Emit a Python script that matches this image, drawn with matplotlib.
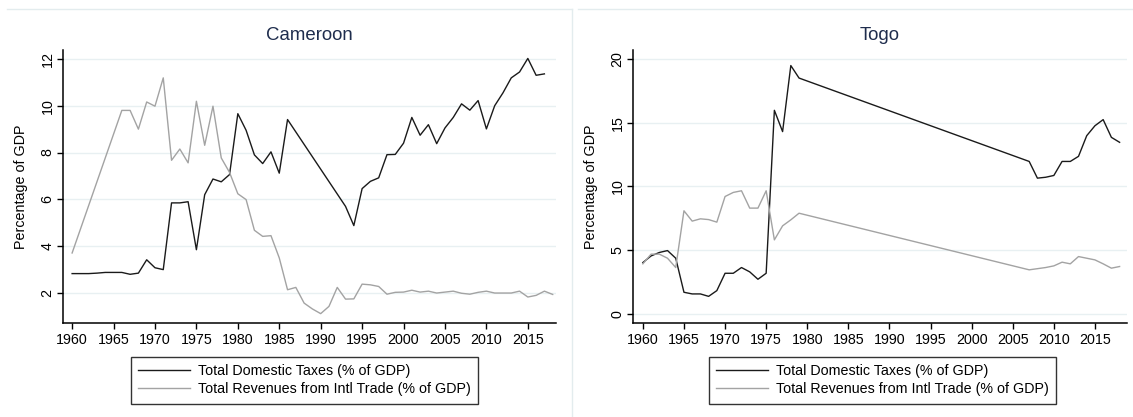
import matplotlib
matplotlib.use("Agg")
import matplotlib.pyplot as plt
from matplotlib.lines import Line2D

plt.rcParams['font.family'] = ['Liberation Sans', 'DejaVu Sans']

# ---------------- data ----------------
cmr_dom_years = [1960, 1961, 1962, 1963, 1964, 1965, 1966, 1967, 1968, 1969,
                 1970, 1971, 1972, 1973, 1974, 1975, 1976, 1977, 1978, 1979,
                 1980, 1981, 1982, 1983, 1984, 1985, 1986, 1993, 1994, 1995,
                 1996, 1997, 1998, 1999, 2000, 2001, 2002, 2003, 2004, 2005,
                 2006, 2007, 2008, 2009, 2010, 2011, 2012, 2013, 2014, 2015,
                 2016, 2017]
cmr_dom = [2.83, 2.83, 2.83, 2.85, 2.88, 2.88, 2.88, 2.80, 2.85, 3.42,
           3.08, 3.00, 5.85, 5.85, 5.90, 3.85, 6.20, 6.87, 6.75, 7.06,
           9.66, 8.95, 7.90, 7.53, 8.03, 7.12, 9.41, 5.70, 4.88, 6.46,
           6.77, 6.92, 7.91, 7.92, 8.40, 9.50, 8.74, 9.19, 8.38, 9.05,
           9.50, 10.08, 9.81, 10.22, 9.01, 10.00, 10.55, 11.19, 11.44, 12.02,
           11.30, 11.36]

cmr_trade_years = [1960, 1966, 1967, 1968, 1969, 1970, 1971, 1972, 1973, 1974,
                   1975, 1976, 1977, 1978, 1979, 1980, 1981, 1982, 1983, 1984,
                   1985, 1986, 1987, 1988, 1989, 1990, 1991, 1992, 1993, 1994,
                   1995, 1996, 1997, 1998, 1999, 2000, 2001, 2002, 2003, 2004,
                   2005, 2006, 2007, 2008, 2009, 2010, 2011, 2012, 2013, 2014,
                   2015, 2016, 2017, 2018]
cmr_trade = [3.71, 9.80, 9.80, 9.00, 10.16, 9.98, 11.19, 7.67, 8.15, 7.56,
             10.19, 8.31, 9.98, 7.77, 7.15, 6.24, 5.99, 4.68, 4.42, 4.45,
             3.50, 2.14, 2.24, 1.57, 1.32, 1.12, 1.43, 2.24, 1.74, 1.75,
             2.38, 2.35, 2.28, 1.95, 2.03, 2.04, 2.12, 2.04, 2.08, 2.00,
             2.04, 2.08, 1.99, 1.95, 2.03, 2.08, 2.00, 2.00, 2.00, 2.08,
             1.83, 1.90, 2.08, 1.94]

tgo_years = [1960, 1961, 1962, 1963, 1964, 1965, 1966, 1967, 1968, 1969,
             1970, 1971, 1972, 1973, 1974, 1975, 1976, 1977, 1978, 1979,
             2007, 2008, 2009, 2010, 2011, 2012, 2013, 2014, 2015, 2016,
             2017, 2018]
tgo_dom = [4.03, 4.55, 4.82, 4.97, 4.37, 1.70, 1.57, 1.57, 1.38, 1.83,
           3.19, 3.19, 3.64, 3.30, 2.72, 3.19, 15.97, 14.30, 19.48, 18.50,
           11.96, 10.65, 10.72, 10.86, 11.96, 11.96, 12.36, 13.98, 14.76, 15.24,
           13.85, 13.46]
tgo_trade = [3.93, 4.69, 4.69, 4.37, 3.64, 8.09, 7.28, 7.46, 7.40, 7.20,
             9.21, 9.53, 9.66, 8.30, 8.30, 9.66, 5.81, 6.91, 7.38, 7.90,
             3.46, 3.55, 3.64, 3.77, 4.06, 3.93, 4.50, 4.37, 4.24, 3.93,
             3.59, 3.72]

titles = ["Cameroon", "Togo"]
x_ticks = list(range(1960, 2016, 5))
cmr_yticks = [2, 4, 6, 8, 10, 12]
tgo_yticks = [0, 5, 10, 15, 20]
legend_labels = ["Total Domestic Taxes (% of GDP)",
                 "Total Revenues from Intl Trade (% of GDP)"]
y_label = "Percentage of GDP"

# ---------------- figure ----------------
W, H = 1133, 417
fig = plt.figure(figsize=(W / 100, H / 100), dpi=100)
fig.patch.set_facecolor('white')

def fx(px):
    return px / W

def fy(py):
    return 1 - py / H

BLACK = '#1a1a1a'
GRAY = '#a3a3a3'
GRID = '#e8f0f2'
TITLE_C = '#1f2d4d'
FS = 10.3

panels = [
    dict(left=63, right=556, xlim=(1958.9, 2018.4), ylim=(0.72, 12.38),
         yticks=cmr_yticks, dom=(cmr_dom_years, cmr_dom),
         trade=(cmr_trade_years, cmr_trade), leg_x=131),
    dict(left=633, right=1127, xlim=(1958.8, 2018.9), ylim=(-0.71, 20.7),
         yticks=tgo_yticks, dom=(tgo_years, tgo_dom),
         trade=(tgo_years, tgo_trade), leg_x=709),
]

top_px, bot_px = 50, 323
for i, p in enumerate(panels):
    ax = fig.add_axes([fx(p['left']), fy(bot_px),
                       fx(p['right'] - p['left']), (bot_px - top_px) / H])
    ax.set_xlim(*p['xlim'])
    ax.set_ylim(*p['ylim'])
    ax.grid(axis='y', color=GRID, linewidth=1.0)
    ax.set_axisbelow(True)
    l1, = ax.plot(p['dom'][0], p['dom'][1], color=BLACK, lw=1.0)
    l2, = ax.plot(p['trade'][0], p['trade'][1], color=GRAY, lw=1.0)
    for s in ['top', 'right']:
        ax.spines[s].set_visible(False)
    for s in ['left', 'bottom']:
        ax.spines[s].set_linewidth(1.1)
        ax.spines[s].set_color('black')
    ax.set_xticks(x_ticks)
    ax.set_yticks(p['yticks'])
    ax.tick_params(axis='both', direction='out', length=4, width=1.0,
                   labelsize=FS, colors='black')
    ax.tick_params(axis='x', pad=3)
    ax.tick_params(axis='y', pad=2)
    for lab in ax.get_yticklabels():
        lab.set_rotation(90)
        lab.set_va('center')
    ax.set_ylabel(y_label, fontsize=FS)
    ax.yaxis.set_label_coords(-0.071, 0.5)
    ax.set_title(titles[i], fontsize=13.4, color=TITLE_C, pad=7)
    leg = ax.legend([l1, l2], legend_labels, loc='upper left',
                    bbox_to_anchor=(fx(p['leg_x']), fy(357)),
                    bbox_transform=fig.transFigure, borderaxespad=0,
                    fontsize=FS, frameon=True, fancybox=False,
                    edgecolor='black', handlelength=3.6, handletextpad=0.6,
                    borderpad=0.5, labelspacing=0.3)
    leg.get_frame().set_linewidth(1.0)

# faint panel borders
bc = '#e3ecee'
fig.add_artist(Line2D([fx(7), fx(572)], [fy(9), fy(9)], color=bc, lw=1.0))
fig.add_artist(Line2D([fx(572), fx(572)], [fy(9), 0], color=bc, lw=1.0))
fig.add_artist(Line2D([fx(578), 1], [fy(9), fy(9)], color=bc, lw=1.0))

fig.savefig("out.png", dpi=100, facecolor='white')
